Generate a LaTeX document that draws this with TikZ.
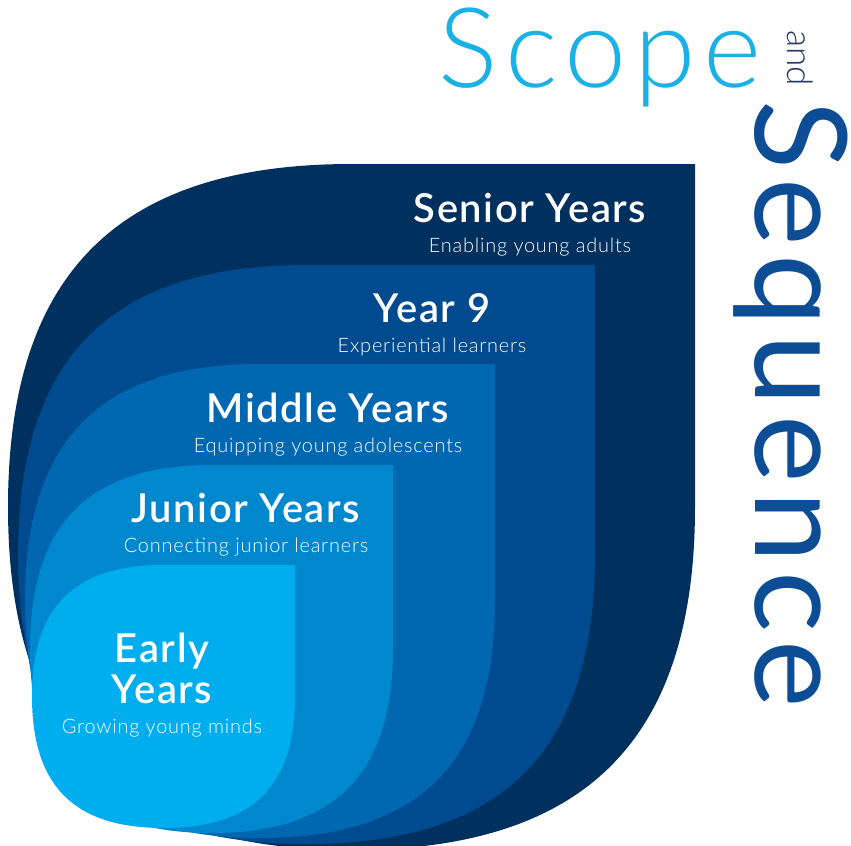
\documentclass[tikz,border=0pt]{standalone}
\usepackage{fontspec}
\setmainfont{Lato}
\newfontfamily\lightfont{Lato Light}
\newfontfamily\semifont{Lato Semibold}
\definecolor{senior}{HTML}{00305E}
\definecolor{yearnine}{HTML}{004A8F}
\definecolor{middle}{HTML}{0067B0}
\definecolor{junior}{HTML}{0088CE}
\definecolor{early}{HTML}{00AEEF}
\definecolor{scopecol}{HTML}{1BB1E7}
\definecolor{seqcol}{HTML}{0D4D96}
\definecolor{andcol}{HTML}{263A63}

\begin{document}
\begin{tikzpicture}[x=0.3mm, y=-0.3mm,
    title/.style={text=white, anchor=base, inner sep=0pt,
      font=\fontsize{34}{35}\semifont\addfontfeature{LetterSpace=4}},
    sub/.style={text=white, anchor=base, inner sep=0pt,
      font=\fontsize{17}{19}\lightfont\addfontfeature{LetterSpace=4}},
    big/.style={anchor=base west, inner sep=0pt, text height=0.72em}]
  \useasboundingbox (0,0) rectangle (851,845);
  \clip (0,0) rectangle (851,845);

  % nested leaves, back to front: left/top/right/bottom/colour
  \foreach \lx/\ty/\rx/\by/\col in {8/164/695/850/senior, 18/265/595/844/yearnine,
      25/364/495/838/middle, 30/465/393/833/junior, 32/565/295/828/early} {
    \pgfmathsetmacro\hx{(\rx-\lx)/2}
    \pgfmathsetmacro\hy{(\by-\ty)/2}
    \fill[\col] (\rx,\ty) -- (\rx,\ty+\hy)
      .. controls (\rx,\ty+1.68*\hy) and (\lx+1.68*\hx,\by) .. (\lx+\hx,\by)
      .. controls (\lx+0.32*\hx,\by) and (\lx,\ty+1.68*\hy) .. (\lx,\ty+\hy)
      .. controls (\lx,\ty+0.32*\hy) and (\lx+0.32*\hx,\ty) .. (\lx+\hx,\ty) -- cycle;
  }

  % stage labels
  \node[title] (senior) at (530,222) {Senior Years};
  \node[sub] (seniorsub) at (530,252) {Enabling young adults};
  \node[title] (yearnine) at (432,322) {Year 9};
  \node[sub] (yearninesub) at (432,352) {Experiential learners};
  \node[title] (middle) at (328,422) {Middle Years};
  \node[sub] (middlesub) at (328,452) {Equipping young adolescents};
  \node[title] (junior) at (246,522) {Junior Years};
  \node[sub] (juniorsub) at (246,552) {Connecting junior learners};
  \node[title, align=center] (early) at (162,703) {Early\\Years};
  \node[sub] (earlysub) at (162,733) {Growing young minds};

  % heading
  \node[big, text=scopecol, font=\fontsize{95}{95}\lightfont\addfontfeature{LetterSpace=7}] (scope) at (438,87) {Scope};
  \node[big, rotate=-90, text=andcol, font=\fontsize{30}{30}\lightfont] (and) at (787,30) {and};
  \node[big, rotate=-90, text=seqcol, font=\fontsize{109}{109}\selectfont\addfontfeature{LetterSpace=7}] (sequence) at (755,100) {Sequence};
\end{tikzpicture}
\end{document}
